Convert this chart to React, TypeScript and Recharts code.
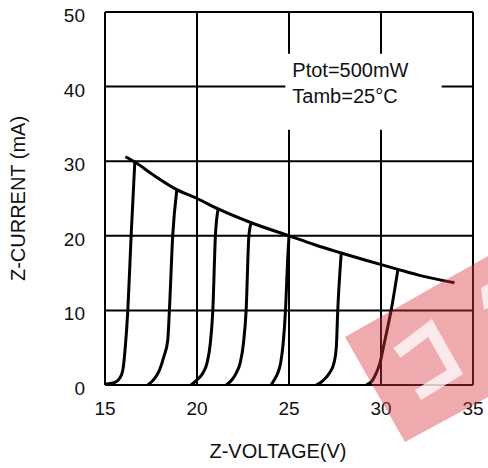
import { LineChart, Line, XAxis, YAxis, CartesianGrid, ReferenceArea, Label } from 'recharts';

// Z-voltage (V) / Z-current (mA) pairs
const curve16: [number, number][] = [[15, 0.1], [15.5, 0.3], [15.8, 0.9], [15.97, 2], [16.1, 5], [16.24, 10], [16.42, 20], [16.62, 29.9]];
const curve18: [number, number][] = [[17.33, 0], [17.7, 0.9], [17.96, 2], [18.2, 3.8], [18.41, 6], [18.5, 10], [18.68, 20], [18.9, 26.1]];
const curve20: [number, number][] = [[19.68, 0], [20.0, 0.7], [20.32, 1.6], [20.55, 3], [20.72, 5.5], [20.86, 10], [21.0, 20], [21.15, 23.6]];
const curve22: [number, number][] = [[21.59, 0], [21.9, 0.7], [22.13, 1.6], [22.35, 3], [22.52, 5.5], [22.67, 10], [22.82, 20], [22.95, 21.75]];
const curve24: [number, number][] = [[24.03, 0], [24.2, 0.7], [24.39, 1.6], [24.55, 3], [24.68, 5.5], [24.81, 10], [24.93, 17], [25.0, 20]];
const curve27: [number, number][] = [[26.48, 0], [26.85, 0.6], [27.2, 1.6], [27.45, 3], [27.57, 5], [27.65, 10], [27.84, 17.7]];
const curve30: [number, number][] = [[29.2, 0], [29.5, 0.5], [29.74, 1.6], [29.95, 3], [30.1, 4.7], [30.3, 7], [30.55, 10], [30.92, 15.5]];
const envelope: [number, number][] = [
    [16.11, 30.6], [16.62, 29.9], [17.6, 28.2], [18.9, 26.2], [20, 25], [21.15, 23.6], [22.95, 21.75],
    [25, 20], [26.4, 18.8], [27.84, 17.7], [29.92, 16.2], [30.92, 15.5], [32.09, 14.7], [33.99, 13.7]
];

const xTicks = [15, 20, 25, 30, 35];
const yTicks = [0, 10, 20, 30, 40, 50];
const noteLines = ['Ptot=500mW', 'Tamb=25°C'];
// annotation box, in data units
const noteBoxV = [24.8, 33.3];
const noteBoxI = [34.2, 44.4];

const FONT = '"Liberation Sans", Arial, sans-serif';

const toPoints = (pairs: [number, number][]) => pairs.map(([v, i]) => ({ v, i }));
const curves = [curve16, curve18, curve20, curve22, curve24, curve27, curve30, envelope];

function XTick({ x, y, payload }: any) {
    return (
        <text x={x} y={y + 22} textAnchor="middle" fontFamily={FONT} fontSize={19} fill="#111">
            {payload.value}
        </text>
    );
}

function YTick({ x, y, payload }: any) {
    return (
        <text x={x} y={y + 10} textAnchor="end" fontFamily={FONT} fontSize={19} fill="#111">
            {payload.value}
        </text>
    );
}

function Watermark() {
    return (
        <svg width={488} height={468} style={{ position: 'absolute', left: 0, top: 0, pointerEvents: 'none' }}>
            <polygon points="345,337 488,256 488,397 405,442" fill="#d9343f" fillOpacity={0.42} />
            <polyline points="397,353 430,328 455,372 418,395" fill="none" stroke="#fff" strokeOpacity={0.75} strokeWidth={12} />
            <polygon points="481,288 488,284 488,308 484,310" fill="#fff" fillOpacity={0.75} />
        </svg>
    );
}

export default function App() {
    return (
        <div style={{ position: 'absolute', left: 0, top: 0, width: 488, height: 468, background: '#fff' }}>
            <LineChart width={488} height={468} margin={{ top: 12, right: 15, bottom: 0, left: 0 }}>
                <CartesianGrid stroke="#000" strokeWidth={2} />
                <XAxis
                    type="number"
                    dataKey="v"
                    domain={[15, 35]}
                    ticks={xTicks}
                    height={83}
                    tickLine={false}
                    axisLine={{ stroke: '#000', strokeWidth: 2 }}
                    tick={<XTick />}
                    allowDataOverflow
                >
                    <Label
                        content={({ viewBox }: any) => (
                            <text x={viewBox.x + viewBox.width / 2 - 11} y={458} textAnchor="middle" fontFamily={FONT} fontSize={20} fill="#111">
                                Z-VOLTAGE(V)
                            </text>
                        )}
                    />
                </XAxis>
                <YAxis
                    type="number"
                    domain={[0, 50]}
                    ticks={yTicks}
                    width={105}
                    tickLine={false}
                    tickMargin={14}
                    axisLine={{ stroke: '#000', strokeWidth: 2 }}
                    tick={<YTick />}
                    allowDataOverflow
                >
                    <Label
                        content={({ viewBox }: any) => {
                            const cy = viewBox.y + viewBox.height / 2;
                            return (
                                <text x={25} y={cy} transform={`rotate(-90 25 ${cy})`} textAnchor="middle" fontFamily={FONT} fontSize={20} fill="#111">
                                    Z-CURRENT (mA)
                                </text>
                            );
                        }}
                    />
                </YAxis>
                <ReferenceArea
                    x1={noteBoxV[0]}
                    x2={noteBoxV[1]}
                    y1={noteBoxI[0]}
                    y2={noteBoxI[1]}
                    fill="#fff"
                    fillOpacity={1}
                    stroke="none"
                    ifOverflow="visible"
                    label={({ viewBox }: any) => (
                        <g>
                            {noteLines.map((t, k) => (
                                <text key={t} x={viewBox.x + 7} y={viewBox.y + 23 + k * 26} fontFamily={FONT} fontSize={20} fill="#111">
                                    {t}
                                </text>
                            ))}
                        </g>
                    )}
                />
                {curves.map((c, k) => (
                    <Line
                        key={k}
                        data={toPoints(c)}
                        dataKey="i"
                        type="monotone"
                        stroke="#000"
                        strokeWidth={3}
                        dot={false}
                        isAnimationActive={false}
                    />
                ))}
            </LineChart>
            <Watermark />
        </div>
    );
}
